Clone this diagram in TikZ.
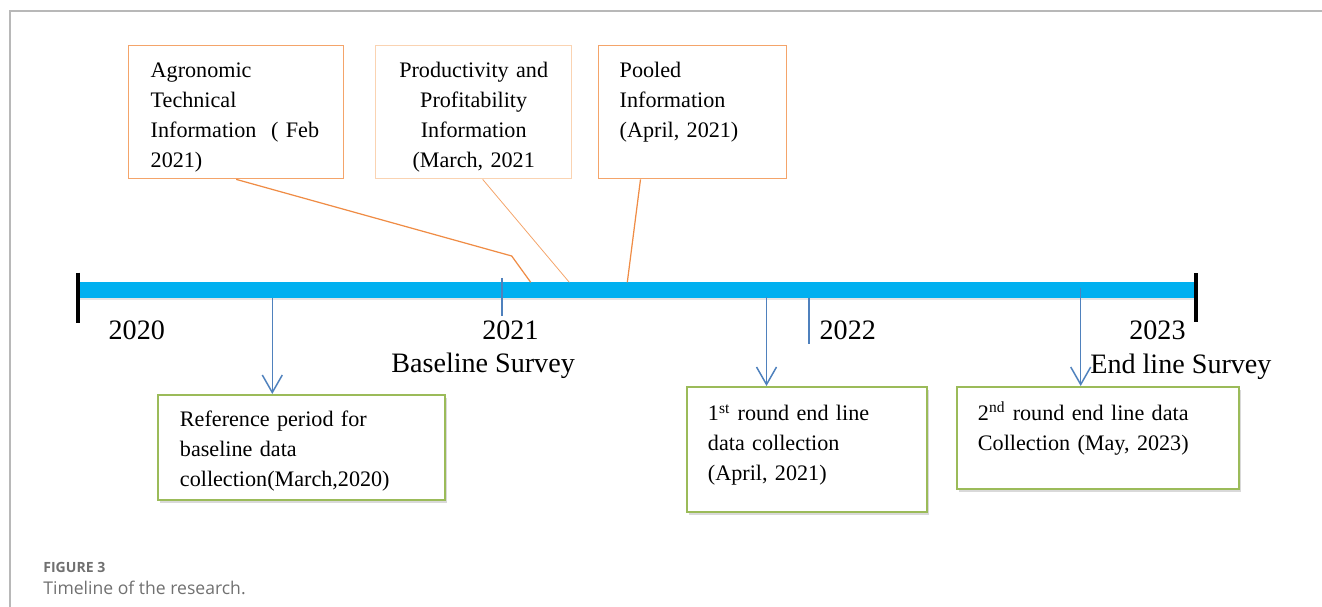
\documentclass[tikz,border=0pt]{standalone}
\usepackage{fontspec}
\setmainfont{Liberation Serif}
\newfontfamily\capfont{Open Sans}
\usetikzlibrary{arrows.meta,shadows}

\definecolor{barblue}{HTML}{00B0F0}
\definecolor{arrblue}{HTML}{4F81BD}
\definecolor{boxorange}{HTML}{F4A46A}
\definecolor{paleorange}{HTML}{FAD3B2}
\definecolor{linkorange}{HTML}{EF8C45}
\definecolor{boxgreen}{HTML}{9BBB59}
\definecolor{framegray}{HTML}{B8B8B8}
\definecolor{capgray}{HTML}{707070}

\tikzset{
  infobox/.style={draw=boxorange, line width=0.8pt, anchor=north west, inner ysep=0pt, align=left, font=\fontsize{12.6}{17}\selectfont},
  databox/.style={draw=boxgreen, line width=1.1pt, fill=white, anchor=north west, inner ysep=0pt, align=left, font=\fontsize{12.6}{17}\selectfont, drop shadow={shadow xshift=0.05cm, shadow yshift=-0.06cm, opacity=0.3}},
  year/.style={anchor=base west, inner sep=0pt, font=\fontsize{16}{19}\selectfont},
  conn/.style={draw=linkorange, line width=0.7pt},
  arr/.style={draw=arrblue, line width=0.85pt, -{Straight Barb[length=0.35cm, width=0.4cm]}},
  tick/.style={draw=arrblue, line width=0.7pt},
  endcap/.style={line width=2.3pt, black},
  caption/.style={anchor=base west, inner sep=0pt, text=capgray}
}

\begin{document}
\begin{tikzpicture}[x=0.02cm, y=-0.02cm]
\useasboundingbox (0,0) rectangle (1322,607);
\draw[framegray, line width=0.9pt] (1322,11) -- (10,11) -- (10,607);

% timeline
\coordinate (barL) at (78,290.3);
\coordinate (barR) at (1194,290.3);
\draw[black, opacity=0.1, line width=9pt] (79,292.5) -- (1195,292.5);
\draw[barblue, line width=9pt] (barL) -- (barR);
\draw[endcap] (78,272.7) -- (78,322.7);
\draw[endcap] (1196,273.3) -- (1196,321.7);
\draw[tick] (502,278) -- (502,316);
\draw[tick] (809,298) -- (809,344);

\node[year] (y2020) at (108.3,340) {2020};
\node[year] (y2021) at (482,340) {2021};
\node[year] (base) at (391,372.7) {Baseline Survey};
\node[year] (y2022) at (819.3,340) {2022};
\node[year] (y2023) at (1129,340) {2023};
\node[year] (endl) at (1090,373.3) {End line Survey};

% information boxes
\node[infobox, inner xsep=0.44cm, text width=3.42cm, text height=0.64cm, text depth=2.02cm] (agro) at (128,45) {Agronomic\\Technical\\Information\ \ ( Feb\\2021)};
\node[infobox, draw=paleorange, align=center, inner xsep=0.2cm, text width=3.52cm, text height=0.64cm, text depth=2.02cm] (prod) at (375,45) {Productivity and\\Profitability\\Information\\(March, 2021};
\node[infobox, inner xsep=0.42cm, text width=2.92cm, text height=0.64cm, text depth=2.02cm] (pool) at (598,45) {Pooled\\Information\\(April, 2021)};

\coordinate (k1) at (511.7,256);
\coordinate (p1) at (530.7,282.3);
\coordinate (p2) at (569.3,282.3);
\coordinate (p3) at (627.3,282.3);
\draw[conn] (agro.south) -- (k1) -- (p1);
\draw[conn, draw=boxorange, line width=0.45pt] ([xshift=0.18cm]prod.south) -- (p2);
\draw[conn] ([xshift=0.85cm]pool.south west) -- (p3);

% data collection boxes
\node[databox, inner xsep=0.44cm, text width=4.86cm, text height=0.64cm, text depth=1.46cm] (refp) at (157,394) {Reference period for\\baseline data\\collection(March,2020)};
\node[databox, inner xsep=0.42cm, text width=3.96cm, text height=0.68cm, text depth=1.82cm] (rnd1) at (686,386) {1\textsuperscript{st} round end line\\data collection\\(April, 2021)};
\node[databox, inner xsep=0.42cm, text width=4.80cm, text height=0.67cm, text depth=1.37cm] (rnd2) at (956,386) {2\textsuperscript{nd} round end line data\\Collection (May, 2023)};

\coordinate (a1) at (272.3,298);
\coordinate (a2) at (766.5,297);
\coordinate (a3) at (1080.7,288);
\draw[arr] (a1) -- (a1 |- refp.north);
\draw[arr] (a2) -- (a2 |- rnd1.north);
\draw[arr] (a3) -- (a3 |- rnd2.north);

% caption
\node[caption, font=\capfont\bfseries\fontsize{8}{10}\selectfont] (fig) at (43,573) {FIGURE 3};
\node[caption, font=\capfont\fontsize{10}{12}\selectfont] (cap) at (43,595) {Timeline of the research.};
\end{tikzpicture}
\end{document}
